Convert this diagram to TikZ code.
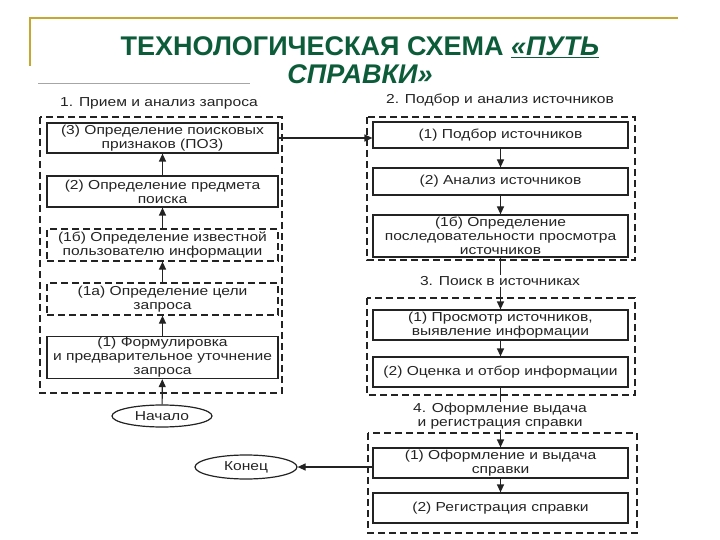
\documentclass[tikz,border=0pt]{standalone}
\usepackage{fontspec}
\setmainfont{Liberation Sans}
\newfontfamily\dfont[FakeStretch=1.2]{Liberation Sans}
\usetikzlibrary{arrows.meta,shapes.geometric}
\definecolor{ttl}{RGB}{12,92,58}
\definecolor{gold}{RGB}{196,168,48}
\definecolor{ink}{RGB}{35,35,35}
\begin{document}
\begin{tikzpicture}[x=1pt,y=-1pt,
  dtext/.style={font=\dfont\fontsize{13}{14}\selectfont,text=ink,align=center},
  lbox/.style={dtext,draw=ink,line width=1.2pt,minimum width=231pt,inner sep=1pt},
  rbox/.style={dtext,draw=ink,line width=1.2pt,minimum width=255pt,inner sep=1pt},
  dbox/.style={dash pattern=on 7pt off 4pt},
  outer/.style={draw=ink,line width=1.2pt,dash pattern=on 7pt off 4pt},
  grp/.style={dtext,fill=white,inner sep=1pt},
  oval/.style={dtext,draw=ink,line width=1.2pt,ellipse,inner sep=0pt},
  arr/.style={draw=ink,line width=1.2pt,-{Triangle[length=8pt,width=7pt]}},
  ln/.style={draw=ink,line width=1.2pt}]
\useasboundingbox (0,0) rectangle (720,540);
% frame
\draw[gold,line width=1.5pt] (30,66) -- (30,18) -- (678,18);
\draw[gray!70,line width=1pt] (38,84) -- (250,84);
% title
\node[font=\bfseries\fontsize{27}{28}\selectfont,text=ttl,align=center] (title) at (360,60)
  {ТЕХНОЛОГИЧЕСКАЯ СХЕМА \underline{\textit{«ПУТЬ}}\\\textit{СПРАВКИ»}};
% outer groups
\draw[outer] (40,117) rectangle (282,393);
\draw[outer] (367,117) rectangle (635,260);
\draw[outer] (367,298) rectangle (635,395);
\draw[outer] (368,433) rectangle (637,533);
% left column
\node[lbox,minimum height=30pt] (L3) at (162.5,138) {(3) Определение поисковых\\признаков (ПОЗ)};
\node[lbox,minimum height=31pt] (L2) at (162.5,191.5) {(2) Определение предмета\\поиска};
\node[lbox,dbox,minimum height=32pt] (L1b) at (162.5,245) {(1б) Определение известной\\пользователю информации};
\node[lbox,dbox,minimum height=32pt] (L1a) at (162.5,299) {(1а) Определение цели\\запроса};
\node[lbox,minimum height=41pt] (L1) at (162.5,357.5) {(1) Формулировка\\и предварительное уточнение\\запроса};
\node[oval,minimum width=100pt,minimum height=22pt] (start) at (162,416) {Начало};
\node[oval,minimum width=102pt,minimum height=24pt] (end) at (246,467) {Конец};
% right column
\node[rbox,minimum height=26pt] (R1) at (500.5,135) {(1) Подбор источников};
\node[rbox,minimum height=27pt] (R2) at (500.5,181.5) {(2) Анализ источников};
\node[rbox,minimum height=42pt] (R1b) at (500.5,236) {(1б) Определение\\последовательности просмотра\\источников};
\node[rbox,minimum height=30pt] (S1) at (500.5,325) {(1) Просмотр источников,\\выявление информации};
\node[rbox,minimum height=30pt] (S2) at (500.5,372) {(2) Оценка и отбор информации};
\node[rbox,minimum height=30pt] (T1) at (500.5,463) {(1) Оформление и выдача\\справки};
\node[rbox,minimum height=30pt] (T2) at (500.5,508) {(2) Регистрация справки};
% connectors
\draw[arr] (start) -- (L1);
\draw[arr] (L1) -- (L1a);
\draw[arr] (L1a) -- (L1b);
\draw[arr] (L1b) -- (L2);
\draw[arr] (L2) -- (L3);
\draw[arr] (L3.east) -- (L3.east -| R1.west);
\draw[arr] (R1) -- (R2);
\draw[arr] (R2) -- (R1b);
\draw[arr] (R1b) -- (S1);
\draw[arr] (S1) -- (S2);
\draw[arr] (S2) -- (T1);
\draw[arr] (T1) -- (T2);
\draw[arr] (end.east -| T1.west) -- (end.east);
% group labels (over the connectors)
\node[grp] (g1) at (159,103) {1. Прием и анализ запроса};
\node[grp] (g2) at (500,100) {2. Подбор и анализ источников};
\node[grp] (g3) at (500,281) {3. Поиск в источниках};
\node[grp] (g4) at (500,416) {4. Оформление выдача\\и регистрация справки};
\end{tikzpicture}
\end{document}
